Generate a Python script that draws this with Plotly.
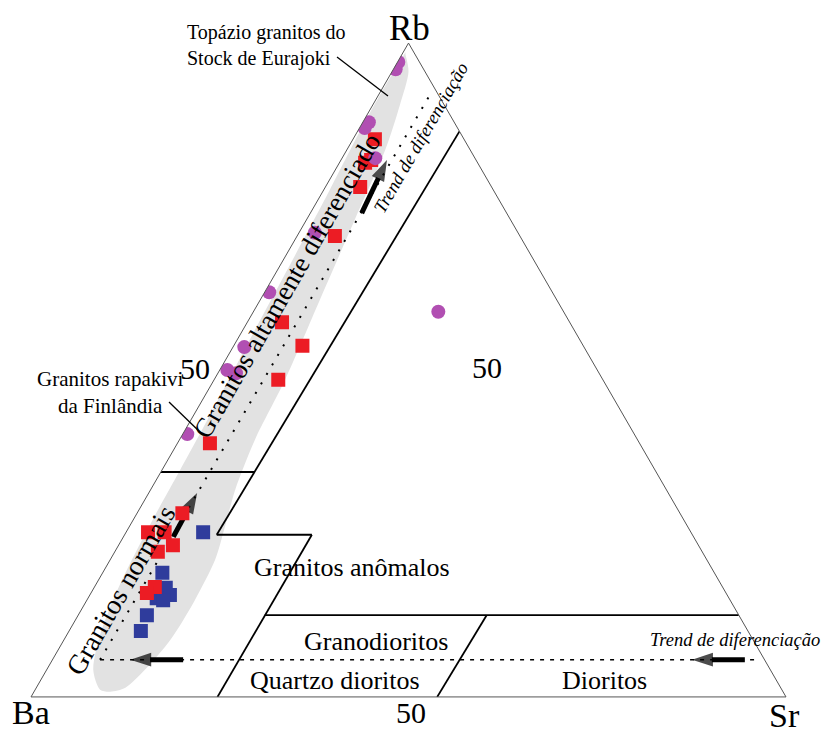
import plotly.graph_objects as go

# ---- Sample compositions (Rb, Ba, Sr in %) ----
# Topázio granitos do Stock de Eurajoki
topaz_rb = [97.1, 96.0, 87.9, 87.0, 82.4, 71.0, 61.9, 53.5, 50.0, 49.5, 40.2, 58.9]
topaz_ba = [2.8, 3.7, 11.3, 12.3, 13.2, 26.9, 37.5, 45.0, 49.0, 48.1, 59.2, 16.6]
topaz_sr = [0.1, 0.3, 0.8, 0.7, 4.4, 2.1, 0.6, 1.5, 1.0, 2.4, 0.6, 24.5]

# Red series
red_rb = [85.3, 82.1, 81.7, 78.0, 70.5, 57.3, 53.7, 48.5, 38.8, 28.1, 25.2, 25.2, 23.2, 22.2, 16.8, 15.9]
red_ba = [11.8, 13.9, 14.9, 17.4, 24.5, 38.1, 37.2, 43.0, 56.9, 65.9, 71.9, 69.7, 69.6, 72.1, 75.2, 76.7]
red_sr = [2.9, 4.0, 3.4, 4.6, 5.0, 4.6, 9.1, 8.5, 4.3, 6.0, 2.9, 5.1, 7.2, 5.7, 8.0, 7.4]

# Blue series
blue_rb = [25.2, 19.0, 16.7, 15.6, 15.1, 14.8, 12.5, 10.1]
blue_ba = [64.6, 73.1, 73.8, 73.8, 75.8, 75.1, 78.4, 80.4]
blue_sr = [10.2, 7.9, 9.5, 10.6, 9.1, 10.1, 9.1, 9.5]

# Field of the Finnish rapakivi granites (outline, Rb / Sr)
env_rb = [98.6, 94.3, 86.7, 77.5, 67.6, 56.1, 44.7, 34.7, 26.3, 17.1, 9.5, 4.1, 1.1, 0.8, 1.4,
          4.1, 8.7, 14.8, 21.0, 26.3, 31.7, 39.3, 48.5, 60.7, 72.9, 83.6, 90.5, 95.6, 98.2]
env_sr = [0.3, 0.2, 0.3, 0.8, 1.2, 1.6, 2.1, 2.4, 2.6, 3.2, 4.4, 6.2, 8.6, 10.1, 11.8,
          13.0, 14.1, 14.3, 13.9, 12.6, 11.2, 10.0, 9.4, 7.9, 6.4, 5.1, 3.6, 2.2, 0.5]

# Field boundaries (pairs of Rb, Sr end points)
boundaries = [
    [(86.5, 13.5), (24.8, 12.2)],
    [(34.4, 0.0), (34.4, 12.45)],
    [(24.8, 12.2), (24.8, 24.8)],
    [(24.8, 24.8), (0.0, 24.7)],
    [(12.5, 24.7), (12.5, 87.5)],
    [(12.5, 54.1), (0.0, 53.8)],
]

# Differentiation trends (Rb, Sr)
trend_diag = [(5.7, 6.3), (92.8, 6.8)]
trend_horiz = [(5.7, 6.3), (5.7, 93.0)]

# Arrows: tail -> tip (Rb, Sr)
arrows = [
    [(74.0, 6.8), (82.1, 6.1)],
    [(24.5, 6.6), (31.2, 6.4)],
    [(5.7, 17.3), (5.7, 10.3)],
    [(5.7, 91.7), (5.7, 84.7)],
]

SERIF = "Liberation Serif, Times New Roman, serif"


def abc(pts):
    rb = [p[0] for p in pts]
    sr = [p[1] for p in pts]
    ba = [100 - r - s for r, s in zip(rb, sr)]
    return rb, ba, sr


fig = go.Figure()

# grey field
fig.add_trace(go.Scatterternary(
    a=env_rb, c=env_sr, b=[100 - r - s for r, s in zip(env_rb, env_sr)],
    mode="lines", fill="toself", fillcolor="#e2e2e2",
    line=dict(width=0, color="#e2e2e2", shape="spline", smoothing=0.8),
    hoverinfo="skip"))

# field boundaries
for seg in boundaries:
    a, b, c = abc(seg)
    fig.add_trace(go.Scatterternary(a=a, b=b, c=c, mode="lines",
                                    line=dict(color="black", width=1.8), hoverinfo="skip"))

# trend lines
a, b, c = abc(trend_diag)
fig.add_trace(go.Scatterternary(a=a, b=b, c=c, mode="lines",
                                line=dict(color="black", width=2, dash="2px,9px"), hoverinfo="skip"))
a, b, c = abc(trend_horiz)
fig.add_trace(go.Scatterternary(a=a, b=b, c=c, mode="lines",
                                line=dict(color="black", width=1.5, dash="4px,6px"), hoverinfo="skip"))

# arrows
for seg in arrows:
    a, b, c = abc(seg)
    fig.add_trace(go.Scatterternary(
        a=a, b=b, c=c, mode="lines+markers",
        line=dict(color="black", width=5),
        marker=dict(symbol="arrow", size=[0, 22], color="black", angleref="previous",
                    line=dict(width=0)),
        hoverinfo="skip"))

# samples
fig.add_trace(go.Scatterternary(a=blue_rb, b=blue_ba, c=blue_sr, mode="markers",
                                marker=dict(symbol="square", size=14, color="#2f3c9c"),
                                name="azul"))
fig.add_trace(go.Scatterternary(a=red_rb, b=red_ba, c=red_sr, mode="markers",
                                marker=dict(symbol="square", size=14, color="#ec1c24"),
                                name="vermelho"))
fig.add_trace(go.Scatterternary(a=topaz_rb, b=topaz_ba, c=topaz_sr, mode="markers",
                                marker=dict(symbol="circle", size=14, color="#b14fb2"),
                                name="Topázio granitos"))

axis_style = dict(showgrid=False, showticklabels=False, ticks="", showline=True,
                  linecolor="#555555", linewidth=1, title=dict(text=""))

L, R, T, B = 31, 36, 43, 38
W, H = 822 - L - R, 735 - T - B


def P(px, py):
    return (px - L) / W, (T + H - py) / H


def label(text, px, py, size, angle=0, italic=False, xanchor="center", align="center"):
    x, y = P(px, py)
    fig.add_annotation(x=x, y=y, xref="paper", yref="paper", text=text, showarrow=False,
                       textangle=angle, xanchor=xanchor, yanchor="middle", align=align,
                       font=dict(family=SERIF, size=size, color="black",
                                 style="italic" if italic else "normal"))


label("Rb", 409, 29, 35)
label("Ba", 31, 712, 34)
label("Sr", 784, 715, 34)
label("50", 195, 368, 30)
label("50", 487, 367, 30)
label("50", 411, 712, 30)
label("Granitos anômalos", 352, 567, 26)
label("Granodioritos", 376, 641, 26)
label("Quartzo dioritos", 335, 680, 26)
label("Dioritos", 604, 680, 26)
label("Trend de diferenciação", 735, 640, 18.5, italic=True)
label("Trend de diferenciação", 421, 138, 18.5, angle=-60, italic=True)
label("Granitos altamente diferenciado", 287, 286, 27, angle=-60)
label("Granitos normais", 120, 590, 27.5, angle=-60)
label("Topázio granitos do<br>Stock de Eurajoki", 185, 45, 20, xanchor="left", align="left")
label("Granitos rapakivi<br>da Finlândia", 110, 392, 21)

# leader lines
for (x0, y0), (x1, y1) in [((337, 57), (388, 96)), ((169, 402), (203, 435))]:
    u0, v0 = P(x0, y0)
    u1, v1 = P(x1, y1)
    fig.add_shape(type="line", xref="paper", yref="paper", x0=u0, y0=v0, x1=u1, y1=v1,
                  line=dict(color="black", width=1.3))

fig.update_layout(
    width=822, height=735,
    margin=dict(l=L, r=R, t=T, b=B),
    paper_bgcolor="white",
    showlegend=False,
    ternary=dict(sum=100, bgcolor="white", domain=dict(x=[0, 1], y=[0, 1]),
                 aaxis=axis_style, baxis=axis_style, caxis=axis_style),
)

fig.write_html("out.html")
